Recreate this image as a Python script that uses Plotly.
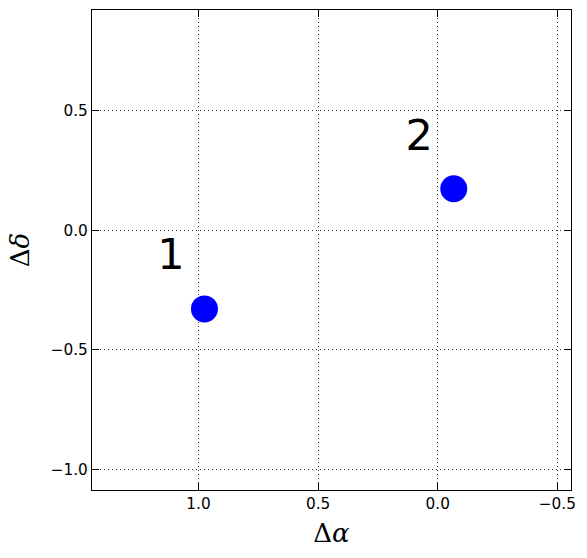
import plotly.graph_objects as go

# data
x_vals = [0.975, -0.067]
y_vals = [-0.329, 0.173]
labels = ["1", "2"]
label_x = [1.115, 0.078]
label_y = [-0.119, 0.381]
xticks = [1.0, 0.5, 0.0, -0.5]
xticktext = ["1.0", "0.5", "0.0", "\u22120.5"]
yticks = [0.5, 0.0, -0.5, -1.0]
yticktext = ["0.5", "0.0", "\u22120.5", "\u22121.0"]

fig = go.Figure()
fig.add_trace(go.Scatter(
    x=x_vals, y=y_vals, mode="markers",
    marker=dict(size=27, color="#0000ff", line=dict(width=0)),
    showlegend=False, hoverinfo="skip"))
fig.add_trace(go.Scatter(
    x=label_x, y=label_y, mode="text", text=labels,
    textfont=dict(size=43, color="black", family="DejaVu Sans"),
    textposition="middle center", showlegend=False, hoverinfo="skip"))

axis_common = dict(
    showline=True, linecolor="black", linewidth=1.2, mirror="ticks",
    ticks="inside", ticklen=7, tickwidth=1, tickcolor="black",
    showgrid=True, gridcolor="#333333", griddash="1px,3px", gridwidth=1,
    zeroline=False,
    tickfont=dict(family="DejaVu Sans", size=15.3, color="black"),
)
fig.update_xaxes(range=[1.445, -0.557], tickvals=xticks, ticktext=xticktext,
                 title=dict(text="\u0394<i>\u03b1</i>",
                            font=dict(family="DejaVu Serif", size=26, color="black"),
                            standoff=11),
                 **axis_common)
fig.update_yaxes(range=[-1.086, 0.9205], tickvals=yticks, ticktext=yticktext,
                 title=dict(text="\u0394<i>\u03b4</i>",
                            font=dict(family="DejaVu Serif", size=26, color="black"),
                            standoff=13),
                 **axis_common)
fig.update_layout(
    width=587, height=558,
    margin=dict(l=92, r=16, t=10, b=68),
    plot_bgcolor="white", paper_bgcolor="white",
)
fig.write_html("out.html", config={"displayModeBar": False},
               post_script="document.body.style.margin='0';document.body.style.overflow='hidden';")
